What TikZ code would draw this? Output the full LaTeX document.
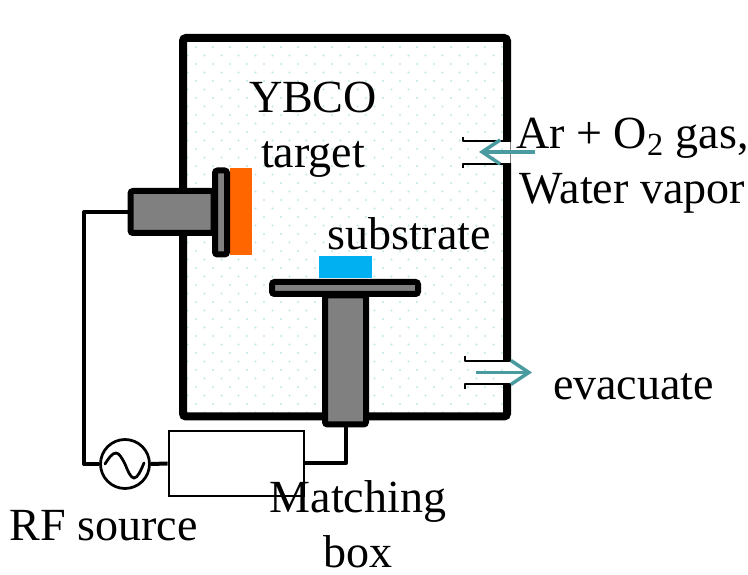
\documentclass[tikz,border=0pt]{standalone}
\usepackage{fontspec}
\setmainfont{Liberation Serif}
\usetikzlibrary{arrows.meta}
\definecolor{dotcolor}{HTML}{BFE6EA}
\definecolor{flowcolor}{HTML}{4A9BA0}
\definecolor{targetcolor}{HTML}{FF6600}
\definecolor{substratecolor}{HTML}{00B0F0}

\begin{document}
\begin{tikzpicture}[>={Straight Barb[length=0.36cm,width=0.48cm]},
  label/.style={inner sep=0pt,align=center,font=\fontsize{26.2}{31.2}\selectfont},
  part/.style={draw=black,fill=gray,line width=0.12cm,rounded corners=0.05cm,inner sep=0pt},
  wire/.style={black,line width=0.08cm,line join=round},
  thinwire/.style={black,line width=0.055cm},
  port/.style={black,line width=0.055cm,line join=round},
  flow/.style={flowcolor,line width=0.07cm,->}]
\useasboundingbox (0,0) rectangle (14.96,11.5);
% gas in the chamber
\begin{scope}
\clip (3.74,10.66) rectangle (10.06,3.24);
\foreach \i in {0,2,...,44}{
  \foreach \j in {0,...,19}{
    \fill[dotcolor] (3.92+0.34*\j,10.56-0.17*\i) circle (0.024);
    \fill[dotcolor] (3.75+0.34*\j,10.39-0.17*\i) circle (0.024);
  }
}
\end{scope}
\draw[black,line width=0.16cm,rounded corners=0.06cm] (3.66,10.74) rectangle (10.14,3.17);
% ports
\fill[white] (10.06,8.66) rectangle (10.24,8.24);
\fill[white] (10.06,4.26) rectangle (10.24,3.84);
\draw[gray,very thin] (10.2,8.66) -- (10.2,8.24);
\draw[port] (9.26,8.76) -- (9.26,8.68) -- (10.06,8.68);
\draw[port] (9.26,8.14) -- (9.26,8.22) -- (10.06,8.22);
\draw[port] (9.30,4.38) -- (9.30,4.28) -- (10.06,4.28);
\draw[port] (9.30,3.72) -- (9.30,3.82) -- (10.06,3.82);
\coordinate (gasstart) at (10.70,8.46);
\coordinate (gasend) at (9.58,8.46);
\coordinate (pumpstart) at (9.52,4.05);
\coordinate (pumpend) at (10.64,4.05);
\draw[flow] (gasstart) -- (gasend);
\draw[flow] (pumpstart) -- (pumpend);
% target and substrate
\fill[targetcolor] (4.60,8.14) rectangle (5.04,6.40);
\fill[substratecolor] (6.38,5.94) rectangle (7.44,6.38);
\node[part,minimum width=1.66cm,minimum height=0.84cm] (arm) at (3.44,7.26) {};
\node[part,minimum width=0.24cm,minimum height=1.68cm] (flange) at (4.42,7.25) {};
\node[part,minimum width=0.82cm,minimum height=2.58cm] (post) at (6.91,4.30) {};
\node[part,minimum width=2.92cm,minimum height=0.24cm] (plate) at (6.90,5.74) {};
% RF circuit
\node[circle,draw=black,thinwire,minimum size=0.98cm,inner sep=0pt] (source) at (2.50,2.22) {};
\node[rectangle,draw=black,thinwire,minimum width=2.70cm,minimum height=1.30cm,inner sep=0pt] (matchbox) at (4.73,2.23) {};
\coordinate (bend) at (1.68,2.22);
\draw[wire] (arm.west) -| (bend) -- (source.west);
\draw[wire] (source.east) -- (matchbox.west);
\draw[wire] (matchbox.east) -| (post.south);
\draw[thinwire,line cap=round] (2.10,2.22) sin (2.32,2.44) cos (2.50,2.22) sin (2.68,1.94) cos (2.88,2.24);
% labels
\node[label] (targetlabel) at (6.26,8.91) {YBCO\\target};
\node[label] (gaslabel) at (12.65,8.18) {Ar + O\textsubscript{2} gas,\\Water vapor};
\node[label] (substratelabel) at (8.18,6.82) {substrate};
\node[label] (evacuatelabel) at (12.67,3.76) {evacuate};
\node[label] (sourcelabel) at (2.07,0.98) {RF source};
\node[label] (boxlabel) at (7.16,1.02) {Matching\\box};
\end{tikzpicture}
\end{document}
